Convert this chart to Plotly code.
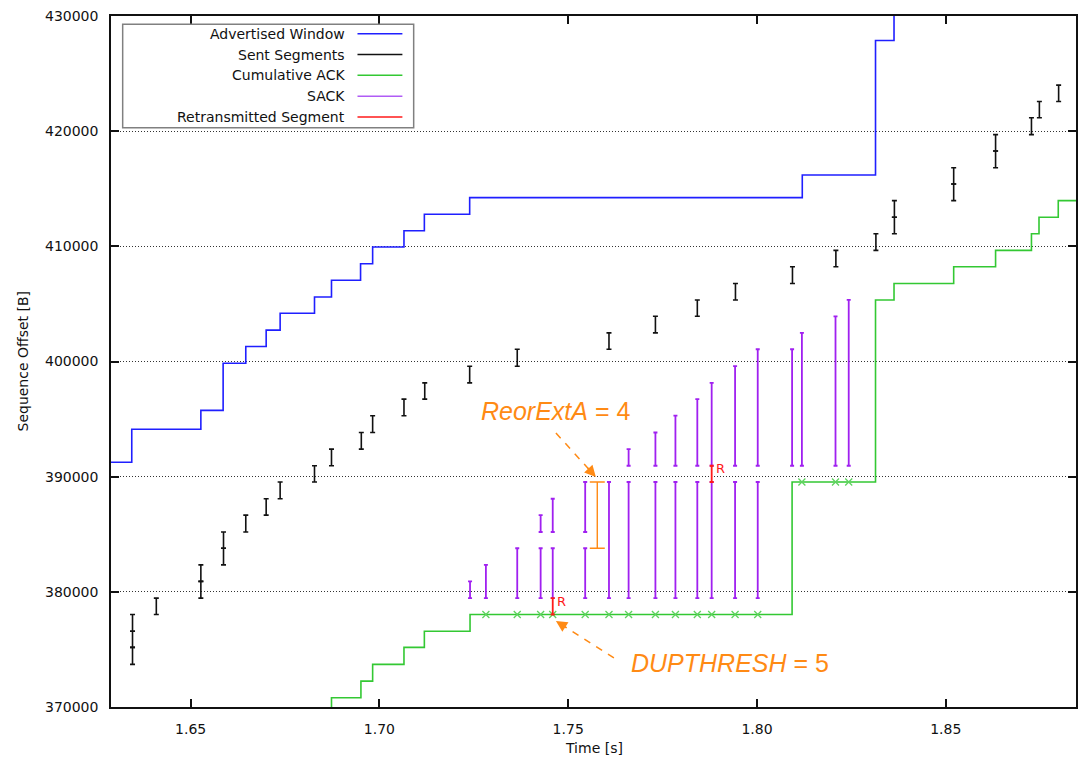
import plotly.graph_objects as go

# ---------------------------------------------------------------- data
# Advertised window right edge (step function, value holds until next time)
win_time = [1.6200, 1.6344, 1.6527, 1.6586, 1.6646, 1.6700, 1.6737, 1.6828, 1.6873,
            1.6950, 1.6982, 1.7065, 1.7119, 1.7239, 1.8120, 1.8314, 1.8363, 1.8900]
win_edge = [391255, 394115, 395754, 399851, 401307, 402728, 404184, 405605, 407061,
            408482, 409938, 411359, 412789, 414227, 416189, 427872, 432000, 432000]

# Cumulative ACK (step function)
ack_time = [1.6200, 1.6873, 1.6951, 1.6982, 1.7065, 1.7119, 1.7240, 1.8093, 1.8314,
            1.8363, 1.8521, 1.8632, 1.8727, 1.8747, 1.8798, 1.8900]
ack_seq = [369350, 370800, 372250, 373697, 375179, 376574, 378030, 389538, 405344,
           406774, 408221, 409651, 411099, 412528, 413967, 413967]

# Duplicate ACKs
dup_time = [1.7282, 1.7365, 1.7427, 1.7459, 1.7545, 1.7608, 1.7660, 1.7731, 1.7784,
            1.7842, 1.7880, 1.7942, 1.8002, 1.8119, 1.8208, 1.8243]
dup_seq = [378030, 378030, 378030, 378030, 378030, 378030, 378030, 378030, 378030,
           378030, 378030, 378030, 378030, 389538, 389538, 389538]

# Sent segments: send time, first byte, last byte
seg_time = [1.6346, 1.6346, 1.6346, 1.6409, 1.6527, 1.6527, 1.6587, 1.6587, 1.6646,
            1.6700, 1.6737, 1.6828, 1.6873, 1.6952, 1.6982, 1.7065, 1.7120, 1.7239,
            1.7365, 1.7608, 1.7731, 1.7842, 1.7943, 1.8094, 1.8209, 1.8315, 1.8364,
            1.8364, 1.8521, 1.8521, 1.8632, 1.8632, 1.8727, 1.8748, 1.8799]
seg_start = [373697, 375179, 376574, 378030, 379451, 380907, 382345, 383784, 385196,
             386661, 388082, 389538, 390950, 392389, 393836, 395292, 396731, 398143,
             399590, 401064, 402485, 403923, 405344, 406774, 408221, 409651, 411099,
             412528, 413967, 415406, 416827, 418283, 419704, 421160, 422581]
seg_end = [375179, 376574, 378030, 379451, 380907, 382345, 383784, 385196, 386661,
           388082, 389538, 390950, 392389, 393836, 395292, 396731, 398143, 399590,
           401064, 402485, 403923, 405344, 406774, 408221, 409651, 411099, 412528,
           413967, 415406, 416827, 418283, 419704, 421160, 422581, 424002]

# SACK blocks reported by each ACK
sack_time = [1.7240, 1.7282, 1.7365, 1.7427, 1.7427, 1.7459, 1.7459, 1.7545, 1.7545,
             1.7608, 1.7660, 1.7660, 1.7731, 1.7731, 1.7784, 1.7784, 1.7842, 1.7842,
             1.7880, 1.7880, 1.7942, 1.7942, 1.8002, 1.8002, 1.8093, 1.8119, 1.8208,
             1.8243]
sack_start = [379451, 379451, 379451, 379451, 385196, 379451, 385196, 379451, 385196,
              379451, 379451, 390950, 379451, 390950, 379451, 390950, 379451, 390950,
              379451, 390950, 379451, 390950, 379451, 390950, 390950, 390950, 390950,
              390950]
sack_end = [380907, 382345, 383784, 383784, 386661, 383784, 388082, 383784, 389538,
            389538, 389538, 392389, 389538, 393836, 389538, 395292, 389538, 396731,
            389538, 398143, 389538, 399590, 389538, 401064, 401064, 402485, 403923,
            405344]

# Retransmitted segments
rtx_time = [1.7459, 1.7880]
rtx_start = [378030, 389538]
rtx_end = [379451, 390950]

# Reordering extent marker
reor_time = [1.7577]
reor_start = [383784]
reor_end = [389538]

x_ticks = [1.65, 1.70, 1.75, 1.80, 1.85]
x_tick_text = ["1.65", "1.70", "1.75", "1.80", "1.85"]
y_ticks = [370000, 380000, 390000, 400000, 410000, 420000, 430000]

X_RANGE = [1.6289, 1.8845]
Y_RANGE = [370000, 430000]

# ---------------------------------------------------------------- styling
BLUE = "#1f1fff"
GREEN = "#33c833"
GREEN_X = "#5fd35f"
PURPLE = "#a020f0"
RED = "#ff1a1a"
ORANGE = "#ff8a14"
BLACK = "#111111"

W, H = 1082, 758
ML, MR, MT, MB = 111, 4, 16, 51
PW, PH = W - ML - MR, H - MT - MB


def px_x(px):
    return (px - ML) / PW


def px_y(py):
    return (H - MB - py) / PH


def span_trace(t, lo, hi, color, thick, cap):
    mid = [(a + b) / 2 for a, b in zip(lo, hi)]
    half = [(b - a) / 2 for a, b in zip(lo, hi)]
    return go.Scatter(
        x=t, y=mid, mode="markers",
        marker=dict(size=1, color="rgba(0,0,0,0)"),
        error_y=dict(type="data", array=half, symmetric=True,
                     color=color, thickness=thick, width=cap),
        showlegend=False, hoverinfo="skip",
    )


fig = go.Figure()

fig.add_trace(go.Scatter(x=win_time, y=win_edge, mode="lines", line_shape="hv",
                         line=dict(color=BLUE, width=1.6), showlegend=False,
                         hoverinfo="skip"))
fig.add_trace(go.Scatter(x=ack_time, y=ack_seq, mode="lines", line_shape="hv",
                         line=dict(color=GREEN, width=1.6), showlegend=False,
                         hoverinfo="skip"))
fig.add_trace(go.Scatter(x=dup_time, y=dup_seq, mode="markers",
                         marker=dict(symbol="x-thin", size=7,
                                     line=dict(color=GREEN_X, width=1.3)),
                         showlegend=False, hoverinfo="skip"))
fig.add_trace(span_trace(seg_time, seg_start, seg_end, BLACK, 1.6, 2.5))
fig.add_trace(span_trace(sack_time, sack_start, sack_end, PURPLE, 1.8, 2))
fig.add_trace(span_trace(rtx_time, rtx_start, rtx_end, RED, 1.8, 2))
fig.add_trace(span_trace(reor_time, reor_start, reor_end, ORANGE, 1.4, 7.5))

annotations = []
shapes = []

# "R" labels beside each retransmission
for t, hi in zip(rtx_time, rtx_end):
    annotations.append(dict(x=t, y=hi, xref="x", yref="y", text="R", showarrow=False,
                            xanchor="left", yanchor="middle", xshift=2, yshift=-3,
                            font=dict(family="DejaVu Sans", size=13, color=RED)))

# annotation texts
annotations.append(dict(x=1.74675, y=395667, xref="x", yref="y",
                        text="<i>ReorExtA</i> = 4", showarrow=False,
                        font=dict(family="Liberation Sans", size=25, color=ORANGE)))
annotations.append(dict(x=1.79298, y=373784, xref="x", yref="y",
                        text="<i>DUPTHRESH</i> = 5", showarrow=False,
                        font=dict(family="Liberation Sans", size=25, color=ORANGE)))

# dashed arrows: dashed body + arrowhead
arrows = [
    ((1.74675, 393794), (1.75732, 389974), (-9.4, -10.4)),
    ((1.76210, 374258), (1.74675, 377470), (11.8, 7.6)),
]
for (tx, ty), (hx, hy), (ax, ay) in arrows:
    shapes.append(dict(type="line", xref="x", yref="y", x0=tx, y0=ty,
                       x1=hx + (tx - hx) * 0.15, y1=hy + (ty - hy) * 0.15,
                       line=dict(color=ORANGE, width=1.5, dash="7px,7px")))
    annotations.append(dict(x=hx, y=hy, xref="x", yref="y", text="", showarrow=True,
                            ax=ax, ay=ay, arrowhead=2, arrowsize=1.5, arrowwidth=1.5,
                            arrowcolor=ORANGE, standoff=0))

# legend box (symbol to the right of its label)
shapes.append(dict(type="rect", xref="paper", yref="paper",
                   x0=px_x(122.7), x1=px_x(414.3), y0=px_y(127.7), y1=px_y(24.3),
                   line=dict(color="#808080", width=1.5), fillcolor="white",
                   layer="above"))
legend_items = [
    ("Advertised Window", BLUE),
    ("Sent Segments", BLACK),
    ("Cumulative ACK", GREEN),
    ("SACK", "#b05cf5"),
    ("Retransmitted Segment", RED),
]
row_y = [33.8, 54.5, 75.3, 96.2, 117.0]
for (label, col), ry in zip(legend_items, row_y):
    annotations.append(dict(x=px_x(347), y=px_y(ry), xref="paper", yref="paper",
                            text=label, showarrow=False, xanchor="right",
                            yanchor="middle",
                            font=dict(family="DejaVu Sans", size=14, color=BLACK)))
    shapes.append(dict(type="line", xref="paper", yref="paper",
                       x0=px_x(358), x1=px_x(403), y0=px_y(ry), y1=px_y(ry),
                       line=dict(color=col, width=1.5), layer="above"))

# axis titles
annotations.append(dict(x=0.5, y=0, xref="paper", yref="paper", text="Time [s]",
                        showarrow=False, yanchor="middle", yshift=-41,
                        font=dict(family="DejaVu Sans", size=14, color=BLACK)))
annotations.append(dict(x=0, y=0.5, xref="paper", yref="paper",
                        text="Sequence Offset [B]", textangle=-90, showarrow=False,
                        xanchor="center", xshift=-89,
                        font=dict(family="DejaVu Sans", size=14, color=BLACK)))

axis_common = dict(showline=True, linecolor=BLACK, linewidth=1.5, mirror="ticks",
                   ticks="inside", ticklen=8, tickwidth=1.5, tickcolor=BLACK,
                   zeroline=False, tickfont=dict(family="DejaVu Sans", size=14,
                                                 color=BLACK))

fig.update_layout(
    width=W, height=H, autosize=False,
    margin=dict(l=ML, r=MR, t=MT, b=MB),
    paper_bgcolor="white", plot_bgcolor="white",
    showlegend=False,
    font=dict(family="DejaVu Sans", size=14, color=BLACK),
    xaxis=dict(range=X_RANGE, tickvals=x_ticks, ticktext=x_tick_text,
               showgrid=False, ticklabelstandoff=8, **axis_common),
    yaxis=dict(range=Y_RANGE, tickvals=y_ticks, tickformat="d",
               showgrid=True, gridcolor="#333333", gridwidth=1, griddash="1px,2px",
               ticklabelstandoff=8, **axis_common),
    annotations=annotations,
    shapes=shapes,
)

fig.write_html("out.html")
